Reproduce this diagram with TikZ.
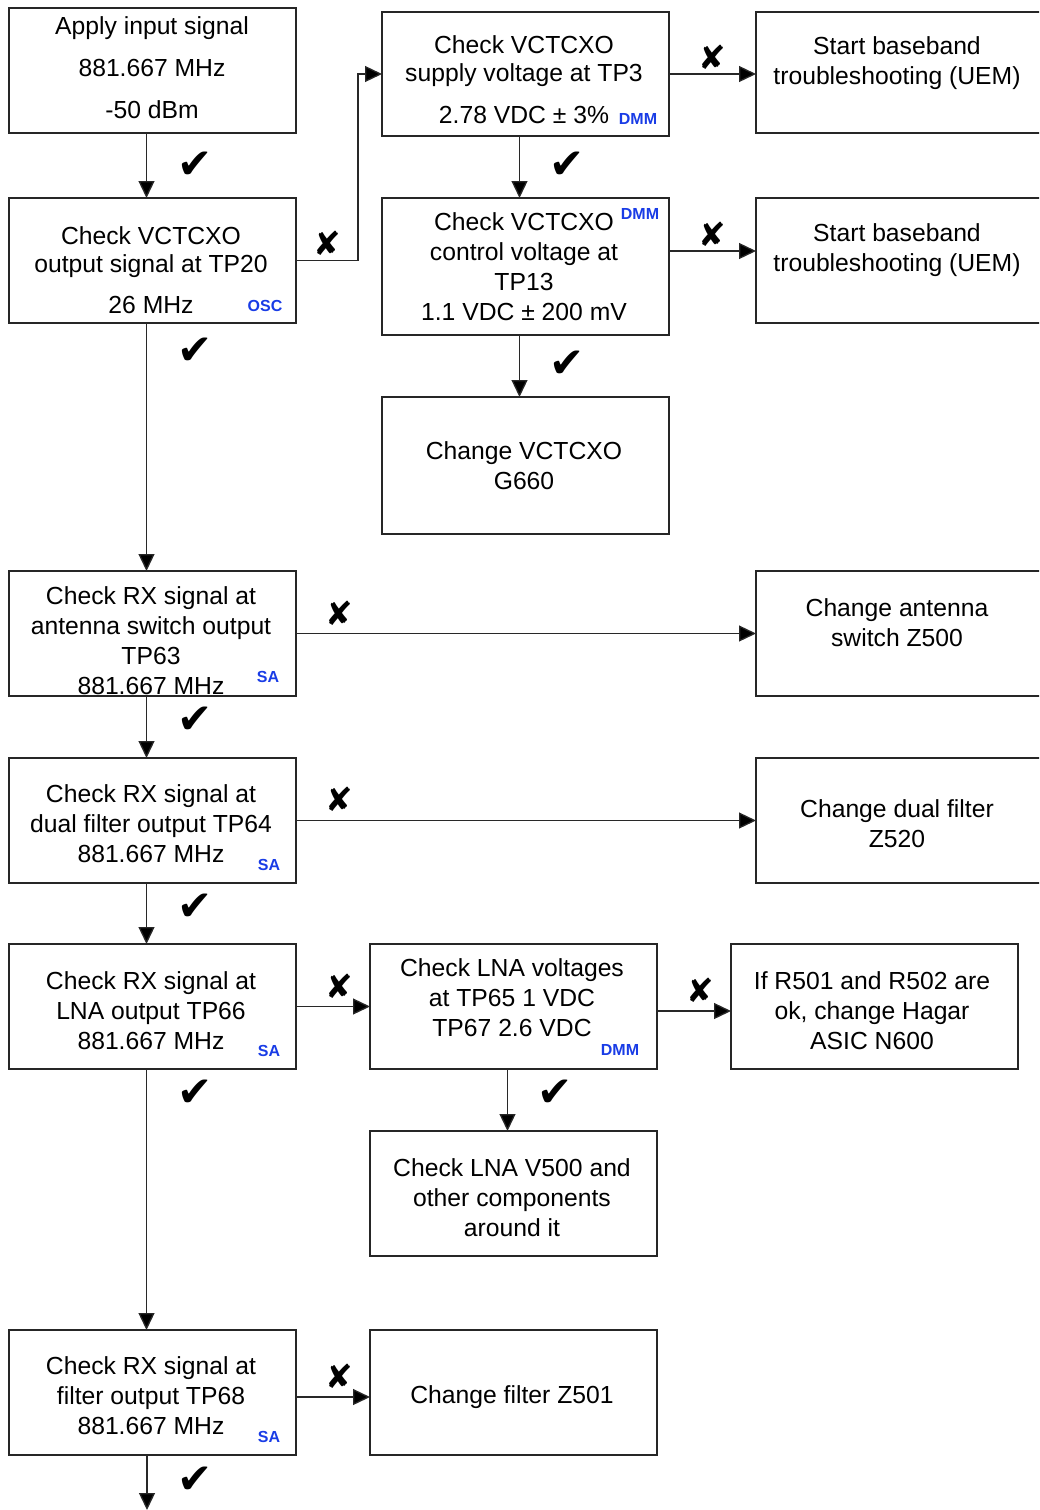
\documentclass[tikz,border=0pt]{standalone}
\usepackage{fontspec}
\setmainfont{Liberation Sans}
\newfontfamily\symfont{DejaVu Sans}
\usetikzlibrary{arrows.meta}
\definecolor{tagblue}{RGB}{25,60,230}
\definecolor{edge}{RGB}{40,40,40}
\begin{document}
\begin{tikzpicture}[x=1pt,y=-1pt,
  box/.style={draw=black!85, line width=1.1pt, minimum width=287pt, minimum height=125pt,
              inner sep=0pt, outer sep=0pt, anchor=north west},
  txt/.style={align=center, inner sep=0pt, font=\fontsize{24.7}{30}\selectfont},
  tag/.style={inner sep=0pt, text=tagblue, font=\fontsize{16}{16}\selectfont\bfseries},
  ok/.style={inner sep=0pt, font=\symfont\fontsize{42}{42}\selectfont},
  no/.style={inner sep=0pt, font=\symfont\fontsize{33}{33}\selectfont},
  arr/.style={draw=edge, line width=1.3pt, -{Triangle[length=17pt,width=16pt,fill=black]}},
]
\useasboundingbox (0,0) rectangle (1039,1510);
\clip (0,0) rectangle (1039,1510);

% ---- boxes ----
\node[box]                        (b1)  at (9,8)     {};
\node[box]                        (b2)  at (9,198)   {};
\node[box, minimum height=124pt]  (b3)  at (382,12)  {};
\node[box, minimum height=121pt]  (b4)  at (756,12)  {};
\node[box, minimum height=137pt]  (b5)  at (382,198) {};
\node[box]                        (b6)  at (756,198) {};
\node[box, minimum height=137pt]  (b7)  at (382,397) {};
\node[box]                        (b8)  at (9,571)   {};
\node[box]                        (b9)  at (756,571) {};
\node[box]                        (b10) at (9,758)   {};
\node[box]                        (b11) at (756,758) {};
\node[box]                        (b12) at (9,944)   {};
\node[box]                        (b13) at (370,944) {};
\node[box]                        (b14) at (731,944) {};
\node[box]                        (b15) at (370,1131) {};
\node[box]                        (b16) at (9,1330)  {};
\node[box]                        (b17) at (370,1330) {};

% ---- box texts ----
\node[txt] (t1)  at (152,68)   {Apply input signal\\[12pt]881.667 MHz\\[12pt]-50 dBm};
\node[txt] (t2)  at (151,270)  {Check VCTCXO\\[-2pt]output signal at TP20\\[11pt]26 MHz};
\node[txt] (t3)  at (524,80)   {Check VCTCXO\\[-2pt]supply voltage at TP3\\[12pt]2.78 VDC ± 3\%};
\node[txt] (t4)  at (897,63)   {Start baseband\\troubleshooting (UEM)};
\node[txt] (t5)  at (524,267)  {Check VCTCXO\\control voltage at\\TP13\\1.1 VDC ± 200 mV};
\node[txt] (t6)  at (897,250)  {Start baseband\\troubleshooting (UEM)};
\node[txt] (t7)  at (524,466)  {Change VCTCXO\\G660};
\node[txt] (t8)  at (151,641)  {Check RX signal at\\antenna switch output\\TP63\\881.667 MHz};
\node[txt] (t9)  at (897,623)  {Change antenna\\switch Z500};
\node[txt] (t10) at (151,824)  {Check RX signal at\\dual filter output TP64\\881.667 MHz};
\node[txt] (t11) at (897,824)  {Change dual filter\\Z520};
\node[txt] (t12) at (151,1011) {Check RX signal at\\LNA output TP66\\881.667 MHz};
\node[txt] (t13) at (512,998)  {Check LNA voltages\\at TP65 1 VDC\\TP67 2.6 VDC};
\node[txt] (t14) at (872,1011) {If R501 and R502 are\\ok, change Hagar\\ASIC N600};
\node[txt] (t15) at (512,1198) {Check LNA V500 and\\other components\\around it};
\node[txt] (t16) at (151,1396) {Check RX signal at\\filter output TP68\\881.667 MHz};
\node[txt] (t17) at (512,1397) {Change filter Z501};

% ---- instrument tags ----
\node[tag] (g2)  at (265,306)  {OSC};
\node[tag] (g3)  at (638,119)  {DMM};
\node[tag] (g5)  at (640,214)  {DMM};
\node[tag] (g8)  at (268,677)  {SA};
\node[tag] (g10) at (269,865)  {SA};
\node[tag] (g12) at (269,1051) {SA};
\node[tag] (g13) at (620,1050) {DMM};
\node[tag] (g16) at (269,1437) {SA};

% ---- connectors ----
\coordinate (c5)  at ([yshift=15.5pt]b5.east);
\coordinate (c13) at ([yshift=-4.5pt]b13.east);
\coordinate (c16) at ([yshift=-4.5pt]b16.east);
\coordinate (fin) at (147,1510);

\draw[arr] ([xshift=-6pt]b1.south) -- ([xshift=-6pt]b2.north);
\draw[arr] (b2.east) -- ++(62,0) |- (b3.west);
\draw[arr] (b3.east) -- (b3.east -| b4.west);
\draw[arr] ([xshift=-6pt]b3.south) -- ([xshift=-6pt]b5.north);
\draw[arr] (c5) -- (c5 -| b6.west);
\draw[arr] ([xshift=-6pt]b5.south) -- ([xshift=-6pt]b7.north);
\draw[arr] ([xshift=-6pt]b2.south) -- ([xshift=-6pt]b8.north);
\draw[arr] (b8.east) -- (b8.east -| b9.west);
\draw[arr] ([xshift=-6pt]b8.south) -- ([xshift=-6pt]b10.north);
\draw[arr] (b10.east) -- (b10.east -| b11.west);
\draw[arr] ([xshift=-6pt]b10.south) -- ([xshift=-6pt]b12.north);
\draw[arr] (b12.east) -- (b12.east -| b13.west);
\draw[arr] (c13) -- (c13 -| b14.west);
\draw[arr] ([xshift=-6pt]b13.south) -- ([xshift=-6pt]b15.north);
\draw[arr] ([xshift=-6pt]b12.south) -- ([xshift=-6pt]b16.north);
\draw[arr] (c16) -- (c16 -| b17.west);
\draw[arr] (b16.south -| fin) -- (fin);

% ---- pass / fail marks ----
\node[ok] (k1) at (195,165)  {✔};
\node[ok] (k2) at (195,351)  {✔};
\node[ok] (k3) at (567,165)  {✔};
\node[ok] (k4) at (567,364)  {✔};
\node[ok] (k5) at (195,720)  {✔};
\node[ok] (k6) at (195,907)  {✔};
\node[ok] (k7) at (555,1093) {✔};
\node[ok] (k8) at (195,1093) {✔};
\node[ok] (k9) at (195,1480) {✔};

\node[no] (x1) at (327,243)  {✘};
\node[no] (x2) at (712,57)   {✘};
\node[no] (x3) at (712,234)  {✘};
\node[no] (x4) at (339,613)  {✘};
\node[no] (x5) at (339,799)  {✘};
\node[no] (x6) at (339,986)  {✘};
\node[no] (x7) at (700,990)  {✘};
\node[no] (x8) at (339,1376) {✘};
\end{tikzpicture}
\end{document}
